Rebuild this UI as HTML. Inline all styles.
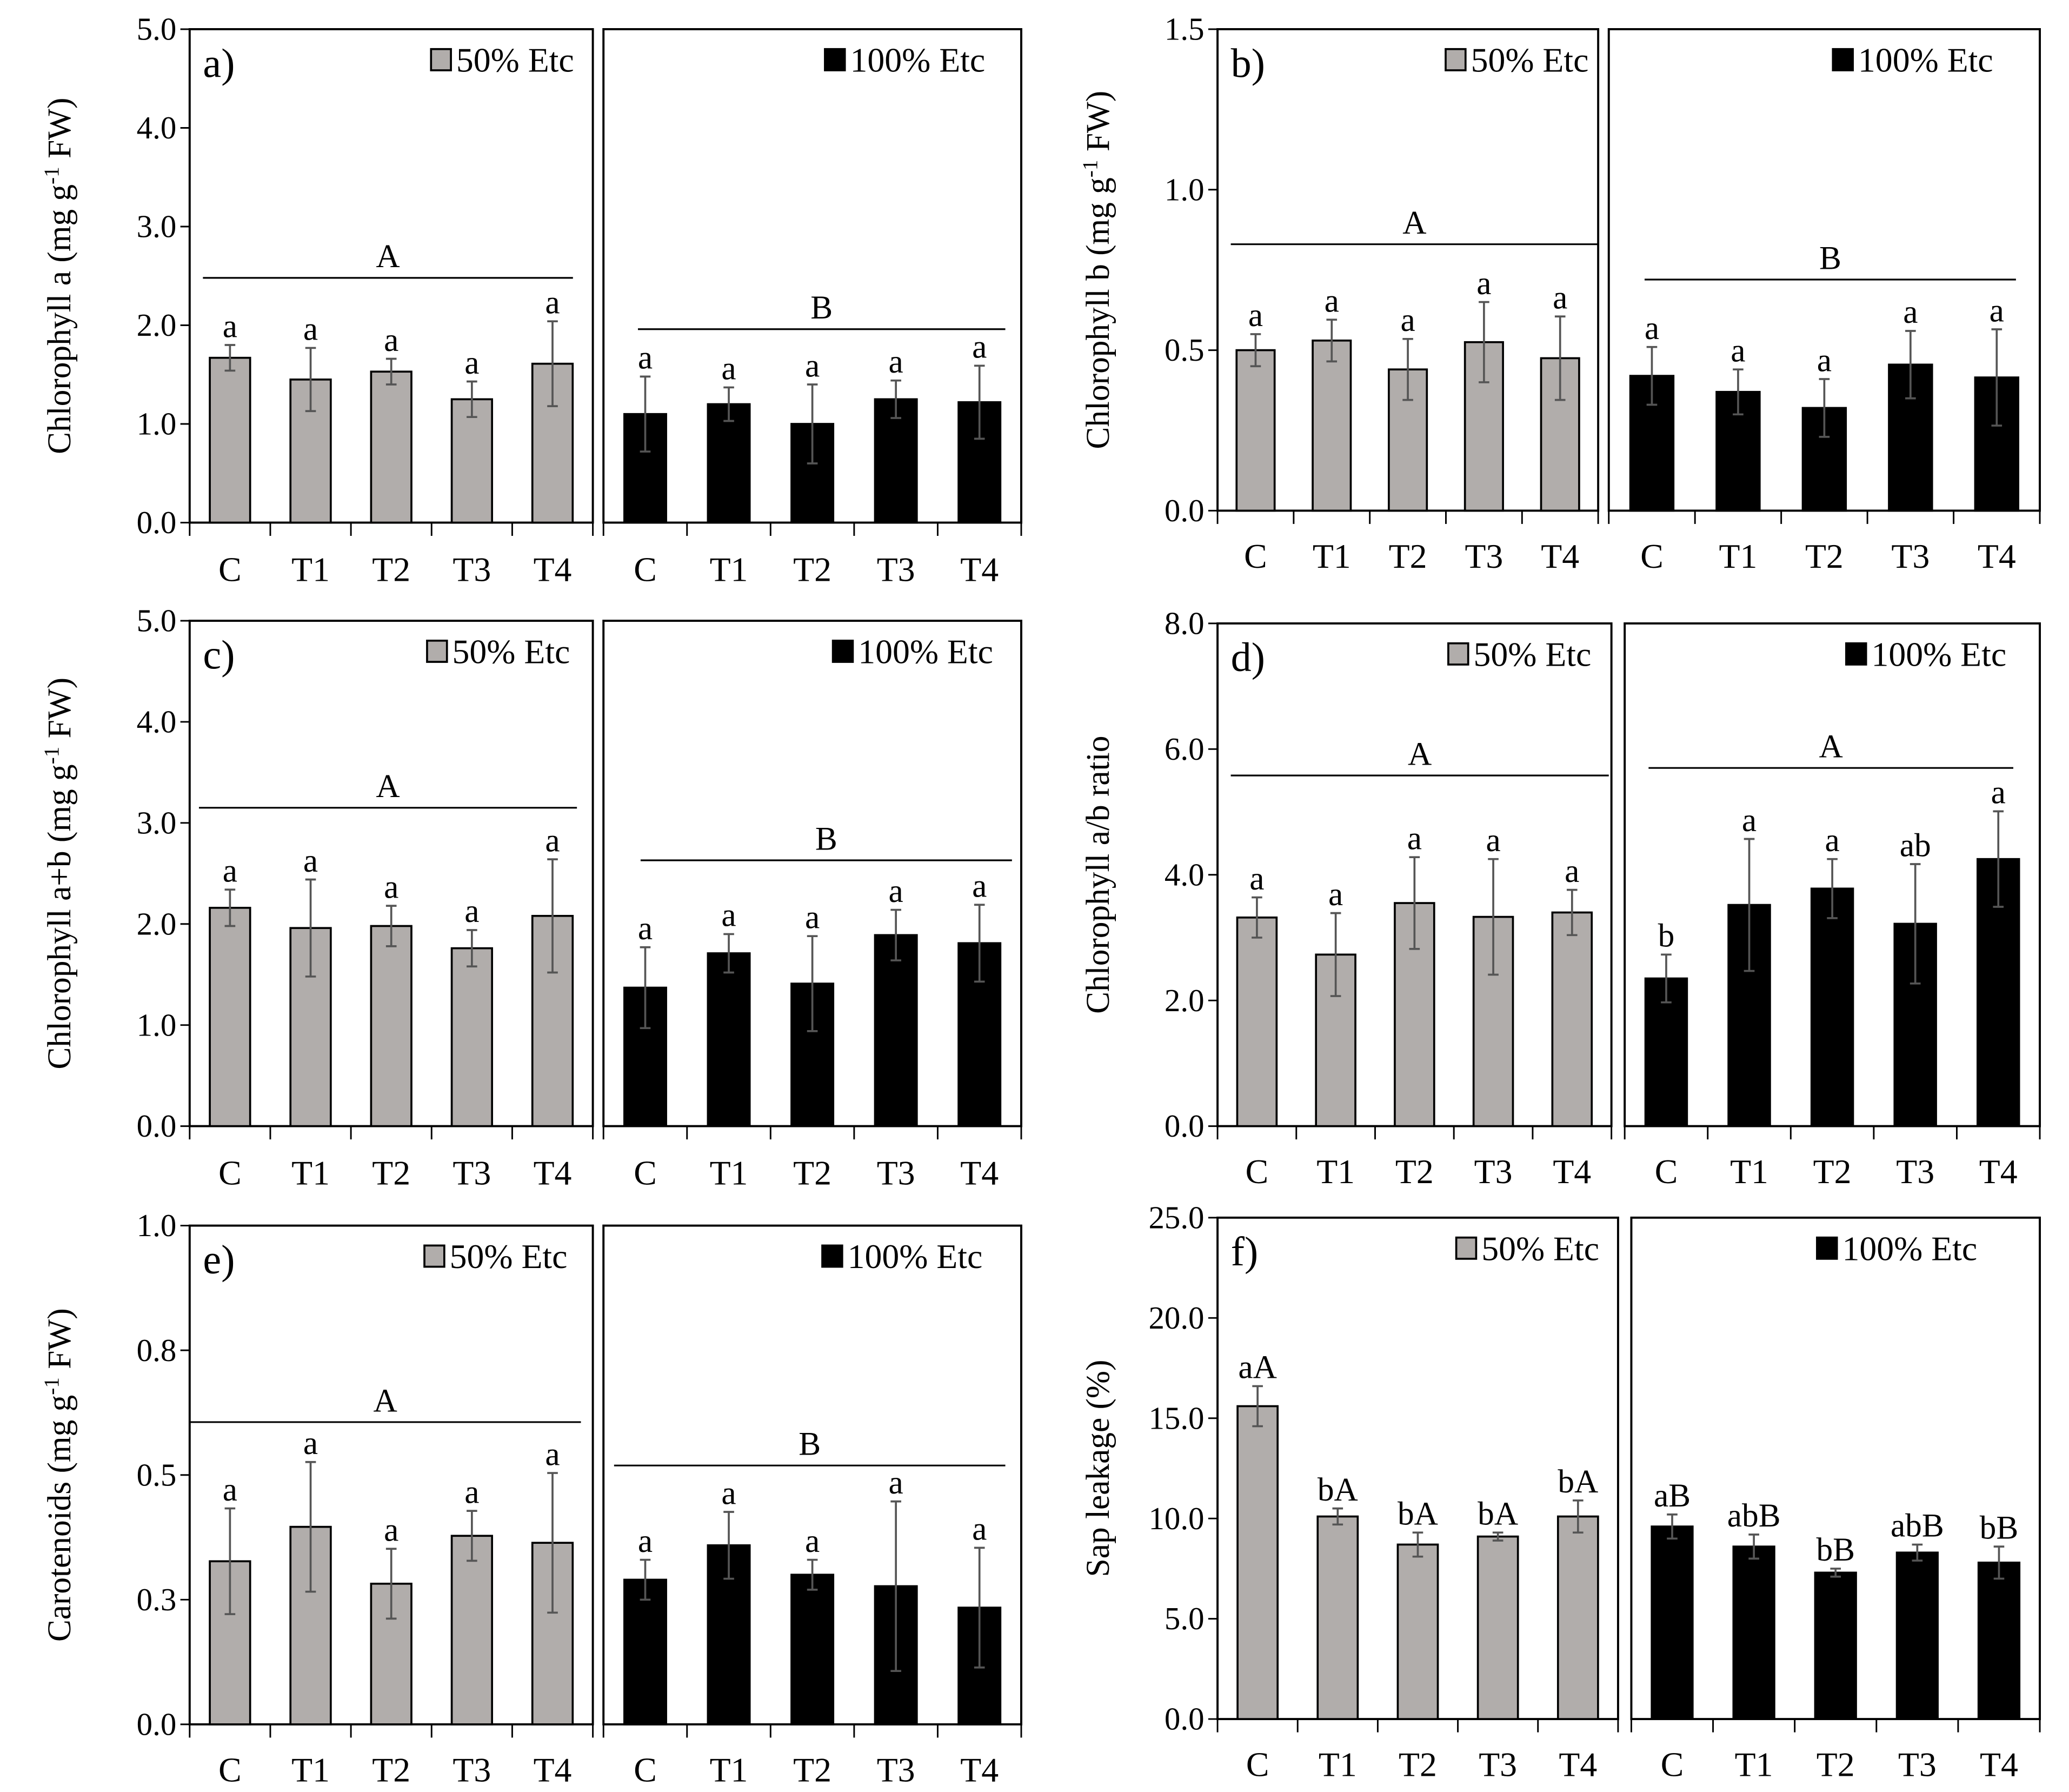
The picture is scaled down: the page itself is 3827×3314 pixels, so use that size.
<!DOCTYPE html>
<html><head><meta charset="utf-8"><style>
html,body{margin:0;padding:0;background:#fff}
svg{display:block}
text{font-family:"Liberation Serif",serif;fill:#000}
</style></head><body>
<svg id="fig" width="3827" height="3314" viewBox="0 0 1560 1351" preserveAspectRatio="none" xmlns="http://www.w3.org/2000/svg"></svg>
<script>
const categories = ["C","T1","T2","T3","T4"];
// panel a
const aLow = [1.67,1.45,1.53,1.25,1.61], aLowErr=[0.13,0.32,0.13,0.18,0.43];
const aHigh = [1.10,1.20,1.00,1.25,1.22], aHighErr=[0.38,0.17,0.40,0.19,0.37];
const aLowLet=["a","a","a","a","a"], aHighLet=["a","a","a","a","a"];
// panel b
const bLow=[0.50,0.53,0.44,0.525,0.475], bLowErr=[0.05,0.065,0.095,0.125,0.13];
const bHigh=[0.42,0.37,0.32,0.455,0.415], bHighErr=[0.09,0.07,0.09,0.105,0.15];
const bLowLet=["a","a","a","a","a"], bHighLet=["a","a","a","a","a"];
// panel c
const cLow=[2.16,1.96,1.98,1.76,2.08], cLowErr=[0.18,0.48,0.2,0.18,0.56];
const cHigh=[1.37,1.71,1.41,1.89,1.81], cHighErr=[0.4,0.19,0.47,0.25,0.38];
const cLowLet=["a","a","a","a","a"], cHighLet=["a","a","a","a","a"];
// panel d
const dLow=[3.32,2.73,3.55,3.33,3.40], dLowErr=[0.32,0.66,0.73,0.92,0.36];
const dHigh=[2.35,3.52,3.78,3.22,4.25], dHighErr=[0.38,1.05,0.47,0.95,0.76];
const dLowLet=["a","a","a","a","a"], dHighLet=["b","a","a","ab","a"];
// panel e
const eLow=[0.327,0.396,0.282,0.378,0.364], eLowErr=[0.106,0.13,0.07,0.05,0.14];
const eHigh=[0.29,0.359,0.30,0.277,0.234], eHighErr=[0.04,0.067,0.03,0.17,0.12];
const eLowLet=["a","a","a","a","a"], eHighLet=["a","a","a","a","a"];
const eTicks=[0,0.25,0.5,0.75,1.0], eTickLabels=["0.0","0.3","0.5","0.8","1.0"];
// panel f
const fLow=[15.6,10.1,8.7,9.1,10.1], fLowErr=[1.0,0.4,0.6,0.2,0.8];
const fHigh=[9.6,8.6,7.3,8.3,7.8], fHighErr=[0.6,0.6,0.2,0.4,0.8];
const fLowLet=["aA","bA","bA","bA","bA"], fHighLet=["aB","abB","bB","abB","bB"];

const NS="http://www.w3.org/2000/svg";
const svg=document.getElementById('fig');
function el(tag,attrs,parent){const e=document.createElementNS(NS,tag);for(const k in attrs)e.setAttribute(k,attrs[k]);(parent||svg).appendChild(e);return e;}

const panels=[
 {id:"a",x0:143,lx1:447,rx0:455,rx1:770,top:22,bot:394,max:5,ticks:[0,1,2,3,4,5],title:["Chlorophyll a (mg g","-1"," FW)"],tx:45,
  low:aLow,lowE:aLowErr,high:aHigh,highE:aHighErr,lowL:aLowLet,highL:aHighLet,gl:{v:2.48,x0:153,x1:432,t:"A"},gh:{v:1.96,x0:481,x1:758,t:"B"},legL:325,legH:622,labY:428},
 {id:"b",x0:918,lx1:1205,rx0:1213,rx1:1538,top:22,bot:385,max:1.5,ticks:[0,0.5,1,1.5],title:["Chlorophyll b (mg g","-1"," FW)"],tx:828,
  low:bLow,lowE:bLowErr,high:bHigh,highE:bHighErr,lowL:bLowLet,highL:bHighLet,gl:{v:0.83,x0:928,x1:1205,t:"A"},gh:{v:0.72,x0:1240,x1:1520,t:"B"},legL:1090,legH:1382,labY:418},
 {id:"c",x0:143,lx1:447,rx0:455,rx1:770,top:468,bot:849,max:5,ticks:[0,1,2,3,4,5],title:["Chlorophyll a+b (mg g","-1"," FW)"],tx:45,
  low:cLow,lowE:cLowErr,high:cHigh,highE:cHighErr,lowL:cLowLet,highL:cHighLet,gl:{v:3.15,x0:150,x1:435,t:"A"},gh:{v:2.63,x0:483,x1:763,t:"B"},legL:322,legH:628,labY:883},
 {id:"d",x0:918,lx1:1215,rx0:1225,rx1:1538,top:470,bot:849,max:8,ticks:[0,2,4,6,8],title:["Chlorophyll a/b ratio","",""],tx:828,
  low:dLow,lowE:dLowErr,high:dHigh,highE:dHighErr,lowL:dLowLet,highL:dHighLet,gl:{v:5.58,x0:928,x1:1213,t:"A"},gh:{v:5.7,x0:1243,x1:1518,t:"A"},legL:1092,legH:1392,labY:882},
 {id:"e",x0:143,lx1:447,rx0:455,rx1:770,top:924,bot:1300,max:1,ticks:eTicks,tickLabels:eTickLabels,title:["Carotenoids (mg g","-1"," FW)"],tx:45,
  low:eLow,lowE:eLowErr,high:eHigh,highE:eHighErr,lowL:eLowLet,highL:eHighLet,gl:{v:0.606,x0:143,x1:438,t:"A"},gh:{v:0.519,x0:463,x1:758,t:"B"},legL:320,legH:620,labY:1333},
 {id:"f",x0:918,lx1:1220,rx0:1230,rx1:1538,top:918,bot:1296,max:25,ticks:[0,5,10,15,20,25],title:["Sap leakage (%)","",""],tx:828,
  low:fLow,lowE:fLowErr,high:fHigh,highE:fHighErr,lowL:fLowLet,highL:fHighLet,gl:null,gh:null,legL:1098,legH:1370,labY:1329}
];

panels.forEach(p=>{
  const g=el('g',{});
  
  
  const y=v=>p.bot-(v/p.max)*(p.bot-p.top);
  [[p.x0,p.lx1],[p.rx0,p.rx1]].forEach((b,bi)=>{
    const r=el('rect',{x:b[0],y:p.top,width:b[1]-b[0],height:p.bot-p.top,fill:'none',stroke:'#000','stroke-width':1.6},g);
    
    
    const slot=(b[1]-b[0])/5;
    for(let i=0;i<=5;i++){el('line',{x1:b[0]+i*slot,x2:b[0]+i*slot,y1:p.bot,y2:p.bot+10,stroke:'#000','stroke-width':1.2},g);}
    const vals=bi?p.high:p.low, errs=bi?p.highE:p.lowE, lets=bi?p.highL:p.lowL;
    vals.forEach((v,i)=>{
      const cx=b[0]+(i+0.5)*slot, w=slot*0.5;
      const bar=el('rect',{x:cx-w/2,y:y(v),width:w,height:p.bot-y(v),fill:bi?'#000':'#b1adab',stroke:'#000','stroke-width':1.5},g);
      
      
      const yt=y(v+errs[i]), yb=y(v-errs[i]);
      el('line',{x1:cx,x2:cx,y1:yt,y2:yb,stroke:'#555','stroke-width':1.5},g);
      el('line',{x1:cx-4,x2:cx+4,y1:yt,y2:yt,stroke:'#555','stroke-width':1.5},g);
      el('line',{x1:cx-4,x2:cx+4,y1:yb,y2:yb,stroke:'#555','stroke-width':1.5},g);
      const lt=el('text',{x:cx,y:yt-6,'font-size':25,'text-anchor':'middle'},g);
      lt.textContent=lets[i];
      
      
      const cl=el('text',{x:cx,y:p.labY+10,'font-size':26,'text-anchor':'middle'},g);
      cl.textContent=categories[i];
      
      
    });
  });
  p.ticks.forEach((t,i)=>{
    el('line',{x1:p.x0-7,x2:p.x0,y1:y(t),y2:y(t),stroke:'#000','stroke-width':1.2},g);
    const tl=el('text',{x:p.x0-10,y:y(t)+8,'font-size':24,'text-anchor':'end'},g);
    tl.textContent=p.tickLabels?p.tickLabels[i]:t.toFixed(1);
    
    
  });
  const cy=(p.top+p.bot)/2;
  const tt=el('text',{x:0,y:0,'font-size':25,'text-anchor':'middle',transform:`translate(${p.tx+8},${cy}) rotate(-90)`},g);
  
  
  const s1=el('tspan',{},tt);s1.textContent=p.title[0];
  if(p.title[1]){const s2=el('tspan',{dy:-9,'font-size':16},tt);s2.textContent=p.title[1];const s3=el('tspan',{dy:9},tt);s3.textContent=p.title[2];}
  const pl=el('text',{x:p.x0+10,y:p.top+36,'font-size':31},g);
  pl.textContent=p.id+')';
  
  
  [[p.legL,'#b1adab','50% Etc'],[p.legH,'#000','100% Etc']].forEach((L,li)=>{
    const lg=el('g',{},g);
    
    
    el('rect',{x:L[0],y:p.top+15,width:15,height:16,fill:L[1],stroke:'#000','stroke-width':1.5},lg);
    const lt=el('text',{x:L[0]+19,y:p.top+32,'font-size':26},lg);lt.textContent=L[2];
  });
  [p.gl,p.gh].forEach(G=>{
    if(!G)return;
    el('line',{x1:G.x0,x2:G.x1,y1:y(G.v),y2:y(G.v),stroke:'#000','stroke-width':1.3},g);
    const t=el('text',{x:(G.x0+G.x1)/2,y:y(G.v)-8,'font-size':25,'text-anchor':'middle'},g);
    t.textContent=G.t;
    
    
  });
});
</script>
</body></html>
